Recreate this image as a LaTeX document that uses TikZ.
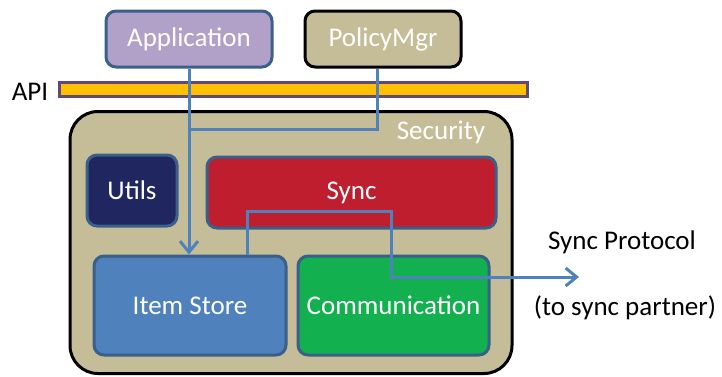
\documentclass[tikz,border=0pt]{standalone}
\usepackage{fontspec}
\setmainfont{Carlito}
\usetikzlibrary{arrows.meta}

\definecolor{appfill}{HTML}{B1A0C7}
\definecolor{edgeblue}{HTML}{3A5F8B}
\definecolor{khaki}{HTML}{C4BD97}
\definecolor{apiyellow}{HTML}{FFC000}
\definecolor{apiedge}{HTML}{5F497A}
\definecolor{navy}{HTML}{1F2660}
\definecolor{syncred}{HTML}{BE1E2D}
\definecolor{storeblue}{HTML}{4F81BD}
\definecolor{commgreen}{HTML}{12B04F}

\tikzset{
  blk/.style={draw=edgeblue, line width=3pt, rounded corners=10pt,
    text=white, font=\fontsize{27}{30}\selectfont, inner sep=0pt},
  conn/.style={draw=storeblue, line width=3pt},
  tip/.style={-{Straight Barb[length=11pt,width=18pt,line width=3pt]}},
  plain/.style={font=\fontsize{27}{30}\selectfont, inner sep=0pt}
}

\begin{document}
\begin{tikzpicture}[x=1pt,y=-1pt]
\useasboundingbox (0,0) rectangle (722,376);

% outer security container
\node[draw=black, fill=khaki, line width=3pt, rounded corners=28pt,
      minimum width=442pt, minimum height=262pt, inner sep=0pt]
  (sec) at (291,242.5) {};
\node[plain, text=white] (seclbl) at (441,132) {Security};

% API bar
\node[draw=apiedge, fill=apiyellow, line width=3pt,
      minimum width=468pt, minimum height=14pt, inner sep=0pt]
  (api) at (293,89.5) {};
\node[plain] (apilbl) at (30,92) {API};

% clients above the API
\node[blk, fill=appfill, minimum width=166pt, minimum height=56pt] (app) at (189,39) {Application};
\node[blk, draw=black, fill=khaki, minimum width=156pt, minimum height=56pt] (pol) at (383,39) {PolicyMgr};

% components inside the container
\node[blk, fill=navy, minimum width=90pt, minimum height=71pt] (utils) at (132,190.5) {Utils};
\node[blk, fill=syncred, minimum width=289pt, minimum height=71pt] (sync) at (351.5,192.5) {Sync};
\node[blk, fill=storeblue, minimum width=192pt, minimum height=99pt] (item) at (190,305.5) {Item Store};
\node[blk, fill=commgreen, minimum width=191pt, minimum height=99pt] (comm) at (393.5,305.5) {Communication};

% external protocol labels
\node[plain] (proto) at (622,242) {Sync Protocol};
\node[plain] (partner) at (625,308) {(to sync partner)};

% connectors
\coordinate (join) at (189,129);
\coordinate (polout) at ([xshift=-6pt]pol.south);
\coordinate (syncout) at ([xshift=57pt]item.north);
\coordinate (bend) at (391,211);
\coordinate (out) at (579,277);

\draw[conn, tip] (app.south) -- (app.south |- item.north);
\draw[conn] (polout) |- (join);
\draw[conn, tip] (syncout) |- (bend) |- (out);
\end{tikzpicture}
\end{document}
